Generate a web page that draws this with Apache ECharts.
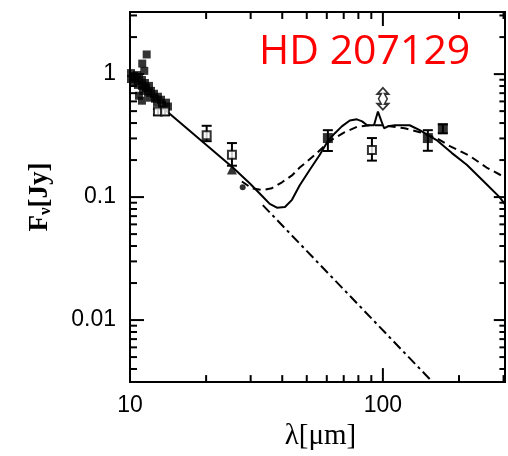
<!DOCTYPE html>
<html>
<head>
<meta charset="utf-8">
<script src="https://cdn.jsdelivr.net/npm/echarts@6/dist/echarts.min.js"></script>
<style>
html, body { margin: 0; padding: 0; background: #fff; }
#chart { width: 508px; height: 456px; }
</style>
</head>
<body>
<div id="chart"></div>
<script>
// tick values (log axes)
const xMajorTicks = [100]
const xMinorTicks = [20, 30, 40, 50, 60, 70, 80, 90, 200, 300]
const yMajorTicks = [0.01, 0.1, 1]
const yMinorTicks = [0.004, 0.005, 0.006, 0.007, 0.008, 0.009,
  0.02, 0.03, 0.04, 0.05, 0.06, 0.07, 0.08, 0.09,
  0.2, 0.3, 0.4, 0.5, 0.6, 0.7, 0.8, 0.9, 2, 3]

// spectrum points (filled squares near 10-14 um)
const specPoints = [
  [10.09, 1.019], [10.37, 0.964], [10.66, 0.982], [10.09, 0.912], [10.47, 0.879],
  [10.85, 0.929], [11.15, 0.895], [10.75, 0.817], [11.15, 0.802], [11.46, 0.847],
  [11.57, 0.773], [11.89, 0.802], [11.26, 0.731], [11.78, 0.705], [12.11, 0.731],
  [12.44, 0.692], [12.0, 0.643], [12.55, 0.631], [12.9, 0.655], [13.26, 0.619],
  [12.79, 0.586], [13.38, 0.565], [13.88, 0.586], [14.13, 0.545], [10.85, 0.667],
  [11.15, 0.608], [11.64, 1.445], [11.18, 1.218], [11.39, 1.063]
]

// photometry with error bars
const openX = [12.9, 13.75, 20.1, 25.3, 90.5]
const openY = [0.497, 0.497, 0.319, 0.221, 0.242]
const openLow = [0.465, 0.465, 0.285, 0.18, 0.198]
const openHigh = [0.52, 0.52, 0.38, 0.275, 0.302]

const filledX = [60.6, 150.6, 172.6]
const filledY = [0.302, 0.302, 0.363]
const filledLow = [0.237, 0.238, 0.33]
const filledHigh = [0.35, 0.35, 0.39]

const trianglePoint = [[25.3, 0.168]]
const circlePoint = [[27.9, 0.12]]
const limitPoint = [[100, 0.63]]

// models
const solidModel = [
  [13.14, 0.555], [25.5, 0.174], [29.8, 0.129], [33.3, 0.102], [35.7, 0.088],
  [38.1, 0.082], [41.0, 0.083], [43.7, 0.095], [46.9, 0.125], [51.4, 0.167],
  [56.3, 0.221], [60.6, 0.286], [64.6, 0.331], [68.8, 0.376], [74.0, 0.42],
  [78.9, 0.429], [82.8, 0.413], [86.6, 0.384], [92.2, 0.384], [95.6, 0.496],
  [98.4, 0.42], [101.1, 0.363], [104.8, 0.376], [111.5, 0.384], [127.6, 0.384],
  [139.8, 0.35], [163, 0.291], [187, 0.229], [214.6, 0.183], [257, 0.127],
  [289.3, 0.1], [303, 0.088]
]
const dashedModel = [
  [27.7, 0.134], [30.3, 0.118], [33.3, 0.114], [36.4, 0.118], [39.9, 0.132],
  [43.7, 0.15], [46.9, 0.174], [53.9, 0.221], [61.7, 0.286], [70.7, 0.337],
  [78.9, 0.372], [88.8, 0.384], [100, 0.384], [122, 0.363], [140, 0.337],
  [163, 0.302], [184, 0.26], [220, 0.217], [257, 0.174], [303, 0.145]
]
const photosphere = [[33.5, 0.086], [158, 0.0031]]

const X_MIN = 10
const X_MAX = 304
const Y_MIN = 0.00313
const Y_MAX = 3.2

const chart = echarts.init(document.getElementById('chart'))

function isDecade(v) {
  const l = Math.log10(v)
  return Math.abs(l - Math.round(l)) < 1e-6
}
function fmt(v) {
  return isDecade(v) ? String(Number(v.toPrecision(6))) : ''
}

function errorBarSeries(xs, lows, highs) {
  return {
    type: 'custom',
    z: 3,
    data: xs.map((x, i) => [x, lows[i], highs[i]]),
    encode: { x: 0, y: 1 },
    renderItem: (params, api) => {
      const x = api.value(0)
      const lo = api.coord([x, api.value(1)])
      const hi = api.coord([x, api.value(2)])
      const style = { stroke: '#000', lineWidth: 2 }
      return {
        type: 'group',
        children: [
          { type: 'line', shape: { x1: lo[0], y1: lo[1], x2: hi[0], y2: hi[1] }, style },
          { type: 'line', shape: { x1: lo[0] - 5, y1: lo[1], x2: lo[0] + 5, y2: lo[1] }, style },
          { type: 'line', shape: { x1: hi[0] - 5, y1: hi[1], x2: hi[0] + 5, y2: hi[1] }, style }
        ]
      }
    }
  }
}

const tickData = []
xMajorTicks.forEach(v => tickData.push(['x', v, 14]))
xMinorTicks.forEach(v => tickData.push(['x', v, 7]))
yMajorTicks.forEach(v => tickData.push(['y', v, 14]))
yMinorTicks.forEach(v => tickData.push(['y', v, 7]))

const tickSeries = {
  type: 'custom',
  z: 10,
  silent: true,
  data: tickData.map(t => [t[0] === 'x' ? t[1] : 20, t[0] === 'y' ? t[1] : 0.1, t[0] === 'x' ? 0 : 1, t[2]]),
  encode: { x: 0, y: 1 },
  renderItem: (params, api) => {
    const cs = params.coordSys
    const style = { stroke: '#000', lineWidth: 2 }
    const len = api.value(3)
    const pt = api.coord([api.value(0), api.value(1)])
    if (api.value(2) === 0) {
      const bottom = cs.y + cs.height
      return {
        type: 'group',
        children: [
          { type: 'line', shape: { x1: pt[0], y1: bottom, x2: pt[0], y2: bottom - len }, style },
          { type: 'line', shape: { x1: pt[0], y1: cs.y, x2: pt[0], y2: cs.y + len }, style }
        ]
      }
    }
    const right = cs.x + cs.width
    return {
      type: 'group',
      children: [
        { type: 'line', shape: { x1: cs.x, y1: pt[1], x2: cs.x + len, y2: pt[1] }, style },
        { type: 'line', shape: { x1: right, y1: pt[1], x2: right - len * 0.8, y2: pt[1] }, style }
      ]
    }
  }
}

const option = {
  backgroundColor: '#fff',
  animation: false,
  title: {
    text: 'HD 207129',
    left: 254,
    top: 27,
    textStyle: {
      color: '#ff0000',
      fontSize: 41,
      fontWeight: 'normal',
      fontFamily: 'Open Sans'
    }
  },
  grid: {
    left: 130,
    right: 3,
    top: 12,
    bottom: 68,
    show: true,
    borderColor: '#000',
    borderWidth: 2
  },
  xAxis: {
    type: 'log',
    logBase: 10,
    min: X_MIN,
    max: X_MAX,
    axisLine: { show: false },
    axisTick: { show: false },
    splitLine: { show: false },
    axisLabel: {
      formatter: fmt,
      margin: 12,
      color: '#000',
      fontSize: 23,
      fontFamily: 'Liberation Sans'
    },
    name: 'λ[μm]',
    nameLocation: 'middle',
    nameGap: 38,
    nameTextStyle: {
      color: '#000',
      fontSize: 29,
      fontFamily: 'Liberation Serif',
      padding: [0, 0, 0, 6]
    }
  },
  yAxis: {
    type: 'log',
    logBase: 10,
    min: Y_MIN,
    max: Y_MAX,
    axisLine: { show: false },
    axisTick: { show: false },
    splitLine: { show: false },
    axisLabel: {
      formatter: fmt,
      margin: 14,
      color: '#000',
      fontSize: 23,
      fontFamily: 'Liberation Sans'
    },
    name: '{a|F}{b|ν}{a|[Jy]}',
    nameLocation: 'middle',
    nameGap: 76,
    nameTextStyle: {
      rich: {
        a: { color: '#000', fontSize: 27, fontWeight: 'bold', fontFamily: 'Liberation Serif' },
        b: { color: '#000', fontSize: 17, fontWeight: 'bold', fontFamily: 'Liberation Serif', verticalAlign: 'bottom', padding: [10, 0, 0, 0] }
      }
    }
  },
  series: [
    {
      type: 'line',
      data: solidModel,
      symbol: 'none',
      lineStyle: { color: '#000', width: 2 },
      z: 2
    },
    {
      type: 'line',
      data: dashedModel,
      symbol: 'none',
      lineStyle: { color: '#000', width: 2, type: [8, 5] },
      z: 2
    },
    {
      type: 'line',
      data: photosphere,
      symbol: 'none',
      lineStyle: { color: '#000', width: 2, type: [10, 4, 3, 4] },
      z: 2
    },
    errorBarSeries(openX, openLow, openHigh),
    errorBarSeries(filledX, filledLow, filledHigh),
    {
      type: 'scatter',
      data: specPoints,
      symbol: 'rect',
      symbolSize: 8,
      itemStyle: { color: '#000' },
      z: 4
    },
    {
      type: 'scatter',
      data: openX.map((x, i) => [x, openY[i]]),
      symbol: 'rect',
      symbolSize: 8,
      itemStyle: { color: '#fff', borderColor: '#000', borderWidth: 2 },
      z: 4
    },
    {
      type: 'scatter',
      data: filledX.map((x, i) => [x, filledY[i]]),
      symbol: 'rect',
      symbolSize: 10,
      itemStyle: { color: '#000' },
      z: 4
    },
    {
      type: 'scatter',
      data: trianglePoint,
      symbol: 'triangle',
      symbolSize: 10,
      itemStyle: { color: '#000' },
      z: 4
    },
    {
      type: 'scatter',
      data: circlePoint,
      symbol: 'circle',
      symbolSize: 6,
      itemStyle: { color: '#000' },
      z: 4
    },
    {
      type: 'scatter',
      data: limitPoint,
      symbol: 'path://M5,0 L10,6 L6.5,6 L9,11 L6.5,16 L10,16 L5,22 L0,16 L3.5,16 L1,11 L3.5,6 L0,6 Z',
      symbolSize: [11, 22],
      itemStyle: { color: '#fff', borderColor: '#000', borderWidth: 1.6 },
      z: 4
    },
    tickSeries
  ]
}

chart.setOption(option)
</script>
</body>
</html>
